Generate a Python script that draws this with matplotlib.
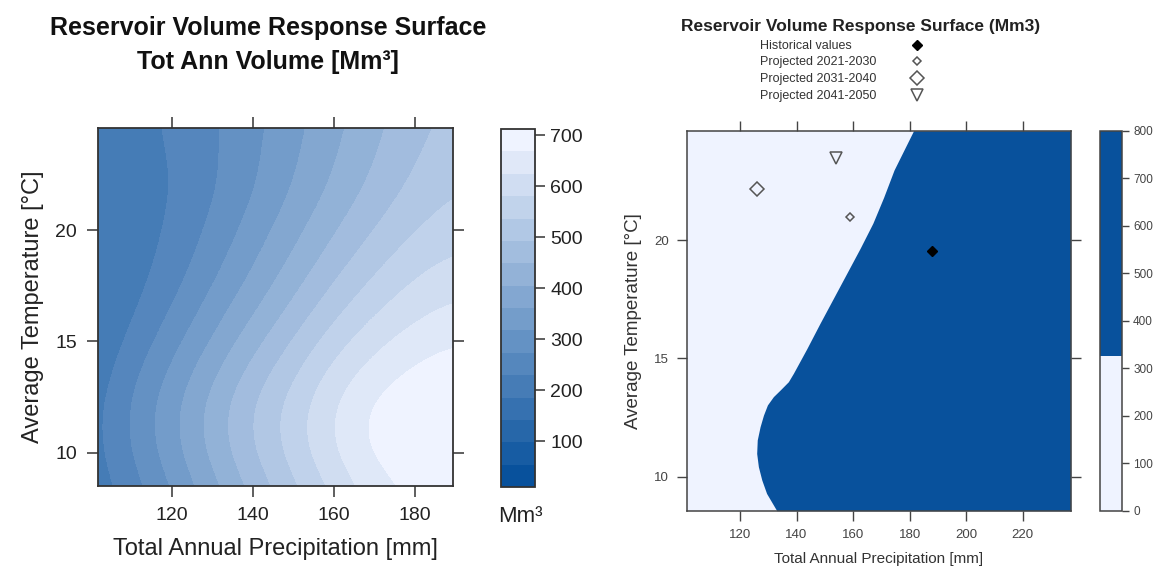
import numpy as np
import matplotlib
matplotlib.use("Agg")
import matplotlib.pyplot as plt
from matplotlib.colors import ListedColormap, BoundaryNorm, LinearSegmentedColormap
from matplotlib.cm import ScalarMappable

plt.rcParams['font.family'] = ['Liberation Sans', 'DejaVu Sans']

# ---------------- data: left response surface -------------
precip_nodes = [100, 110, 120, 130, 140, 150, 160, 170, 180, 190]
temp_nodes = [8, 10, 12, 14, 16, 18, 20, 22, 24, 26]
vol_T8 = [195, 245, 310, 380, 452, 518, 580, 640, 676, 690]
vol_T10 = [205, 275, 345, 420, 492, 557, 625, 680, 700, 708]
vol_T12 = [205, 280, 350, 425, 497, 560, 628, 682, 703, 712]
vol_T14 = [192, 255, 320, 388, 458, 522, 588, 638, 672, 688]
vol_T16 = [180, 225, 282, 345, 408, 472, 534, 586, 622, 644]
vol_T18 = [178, 208, 252, 308, 366, 425, 485, 537, 578, 600]
vol_T20 = [182, 202, 236, 283, 336, 390, 444, 494, 536, 562]
vol_T22 = [190, 203, 228, 266, 312, 362, 412, 460, 503, 532]
vol_T24 = [200, 210, 234, 266, 306, 350, 396, 442, 484, 515]
vol_T26 = [205, 215, 238, 266, 302, 342, 385, 430, 470, 500]
vol_min, vol_max, n_bands = 10, 712, 16
left_cbar_ticks = [100, 200, 300, 400, 500, 600, 700]
left_xticks = [120, 140, 160, 180]
left_yticks = [10, 15, 20]

# ---------------- data: right panel -------------
bnd_temp = [8.56, 9.29, 9.86, 10.42, 10.98, 11.55, 12.11, 12.60, 13.03, 13.38, 13.66,
            14.01, 14.37, 15.40, 16.48, 17.55, 18.60, 19.65, 20.71, 21.80, 22.96, 24.62]
bnd_precip = [133.0, 129.4, 127.7, 126.5, 125.9, 126.1, 127.1, 128.3, 129.7, 131.8, 134.2,
              137.1, 138.9, 143.6, 148.3, 153.1, 157.8, 162.5, 167.0, 170.8, 174.5, 181.4]
right_levels = [0, 325, 800]
right_cbar_ticks = [0, 100, 200, 300, 400, 500, 600, 700, 800]
right_xticks = [120, 140, 160, 180, 200, 220]
right_yticks = [10, 15, 20]
series_names = ["Historical values", "Projected 2021-2030", "Projected 2031-2040", "Projected 2041-2050"]
series_precip = [187.9, 159.0, 126.1, 153.9]
series_temp = [19.54, 20.97, 22.16, 23.45]

DARK = "#08519C"
LIGHT = "#EFF3FF"
SPINE = "#333333"

W, H = 1162, 574
fig = plt.figure(figsize=(W / 100, H / 100), dpi=100)

def fx(px):
    return px / W

def fy(py):
    return 1 - py / H

# ---------------- left panel -------------
axL = fig.add_axes([fx(98), fy(486), fx(453) - fx(98), fy(128) - fy(486)])
ramp = LinearSegmentedColormap.from_list("ramp", [DARK, LIGHT])
band_colors = [ramp(i / (n_bands - 1)) for i in range(n_bands)]
cmapL = ListedColormap(band_colors)
cmapL.set_under(band_colors[0])
cmapL.set_over(band_colors[-1])
levelsL = np.linspace(vol_min, vol_max, n_bands + 1)
normL = BoundaryNorm(levelsL, n_bands)
Z = np.array([vol_T8, vol_T10, vol_T12, vol_T14, vol_T16, vol_T18, vol_T20, vol_T22, vol_T24, vol_T26], float)
dP = precip_nodes[1] - precip_nodes[0]
dT = temp_nodes[1] - temp_nodes[0]
ext = [precip_nodes[0] - dP / 2, precip_nodes[-1] + dP / 2, temp_nodes[0] - dT / 2, temp_nodes[-1] + dT / 2]
im = axL.imshow(Z, origin="lower", extent=ext, cmap=cmapL, norm=normL, aspect="auto",
                interpolation="bicubic", interpolation_stage="data")
axL.set_xlim(101.7, 189.4)
axL.set_ylim(8.5, 24.6)
axL.set_xticks(left_xticks)
axL.set_yticks(left_yticks)
axL.tick_params(direction="out", top=True, right=True, length=8, width=1.1, color=SPINE,
                labelsize=14, pad=7, labelcolor="#222222")
for s in axL.spines.values():
    s.set_color(SPINE)
    s.set_linewidth(1.3)
axL.set_xlabel("Total Annual Precipitation [mm]", fontsize=17, color="#222222", labelpad=10)
axL.set_ylabel("Average Temperature [°C]", fontsize=17, color="#222222", labelpad=8)

caxL = fig.add_axes([fx(501), fy(487), fx(535) - fx(501), fy(129) - fy(487)])
cbL = fig.colorbar(ScalarMappable(norm=normL, cmap=cmapL), cax=caxL, ticks=left_cbar_ticks)
cbL.minorticks_off()
cbL.outline.set_edgecolor(SPINE)
cbL.outline.set_linewidth(1.3)
caxL.tick_params(direction="out", length=7, width=1.1, color=SPINE, labelsize=14, pad=4,
                 labelcolor="#222222")
fig.text(fx(520), fy(516), "Mm³", ha="center", va="center", fontsize=16, color="#222222")

fig.text(fx(268), fy(45), "Reservoir Volume Response Surface\nTot Ann Volume [Mm³]",
         ha="center", va="center", fontsize=18, fontweight="bold", linespacing=1.5, color="#111111")

# ---------------- right panel -------------
axR = fig.add_axes([fx(687.3), fy(510.7), fx(1070.7) - fx(687.3), fy(130.7) - fy(510.7)])
axR.set_facecolor(LIGHT)
xlimR = (101.35, 237.0)
axR.fill_betweenx(bnd_temp, bnd_precip, xlimR[1], color=DARK, linewidth=0)
axR.set_xlim(*xlimR)
axR.set_ylim(bnd_temp[0], bnd_temp[-1])
axR.set_xticks(right_xticks)
axR.set_yticks(right_yticks)
axR.tick_params(direction="out", top=True, right=True, length=7, width=1.0, color="#444444",
                labelsize=9.5, pad=6, labelcolor="#444444")
for s in axR.spines.values():
    s.set_color("#444444")
    s.set_linewidth(1.1)
axR.set_xlabel("Total Annual Precipitation [mm]", fontsize=11, color="#333333", labelpad=8)
axR.set_ylabel("Average Temperature [°C]", fontsize=13.5, color="#333333", labelpad=9)

mk = [dict(marker="D", ms=5, mfc="black", mec="black", mew=1),
      dict(marker="D", ms=4.5, mfc="none", mec="#555555", mew=1.1),
      dict(marker="D", ms=7, mfc="none", mec="#555555", mew=1.1),
      dict(marker="v", ms=8, mfc="none", mec="#555555", mew=1.1)]
for i in range(len(series_names)):
    axR.plot([series_precip[i]], [series_temp[i]], linestyle="none", **mk[i])

cmapR = ListedColormap([LIGHT, DARK])
normR = BoundaryNorm(right_levels, 2)
caxR = fig.add_axes([fx(1100), fy(510.7), fx(1122) - fx(1100), fy(130.7) - fy(510.7)])
cbR = fig.colorbar(ScalarMappable(norm=normR, cmap=cmapR), cax=caxR, ticks=right_cbar_ticks,
                   spacing="proportional")
cbR.minorticks_off()
cbR.outline.set_edgecolor("#444444")
cbR.outline.set_linewidth(1.1)
caxR.tick_params(direction="out", length=5, width=1.0, color="#444444", labelsize=8.5, pad=3,
                 labelcolor="#444444")

fig.text(fx(861), fy(27), "Reservoir Volume Response Surface (Mm3)", ha="center", va="center",
         fontsize=12.5, fontweight="bold", color="#222222")
legend_y = [46, 62, 79, 96]
for i in range(len(series_names)):
    fig.text(fx(760), fy(legend_y[i]), series_names[i], ha="left", va="center", fontsize=9,
             color="#333333")
    fig.add_artist(plt.Line2D([fx(917)], [fy(legend_y[i] - 1)], linestyle="none",
                              transform=fig.transFigure, **mk[i]))

fig.savefig("out.png", dpi=100, facecolor="white")
